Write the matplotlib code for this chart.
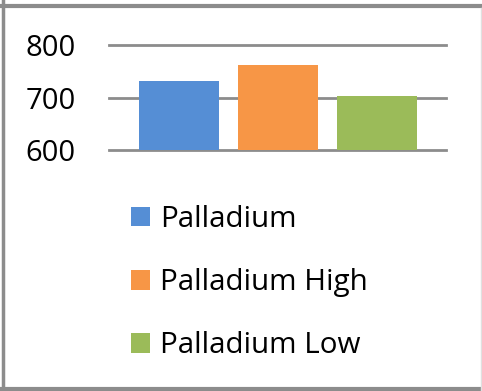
import matplotlib.pyplot as plt
from matplotlib.lines import Line2D

# data
series = ["Palladium", "Palladium High", "Palladium Low"]
values = [731, 762, 704]
colors = ["#558ED5", "#F79646", "#9BBB59"]
yticks = [600, 700, 800]

W, H = 482, 391
fig = plt.figure(figsize=(W / 100, H / 100), dpi=100)
plt.rcParams['font.family'] = ['Open Sans', 'DejaVu Sans']

# axes placed in pixel terms
x0, x1 = 109, 446
y_top, y_bot = 45.3, 150
ax = fig.add_axes([x0 / W, 1 - y_bot / H, (x1 - x0) / W, (y_bot - y_top) / H])

pos = list(range(len(series)))
bars = ax.bar(pos, [v - yticks[0] for v in values], bottom=yticks[0],
              width=0.81, color=colors, zorder=3)

ax.set_ylim(yticks[0], yticks[-1])
ax.set_xlim(-0.707, len(series) - 1 + 0.697)
ax.set_yticks(yticks)
ax.set_xticks([])
ax.yaxis.grid(True, color="#8C8C8C", linewidth=2.0, zorder=1)
for gl in ax.get_ygridlines():
    gl.set_clip_on(False)
ax.tick_params(axis='y', length=0, pad=24, labelsize=21)
for s in ax.spines.values():
    s.set_visible(False)
ax.set_facecolor("none")

leg = fig.legend(bars, series, loc="upper left",
                 bbox_to_anchor=(131 / W, 1 - 205 / H),
                 fontsize=21.3, frameon=False,
                 handlelength=0.65, handleheight=0.65, handletextpad=0.33,
                 labelspacing=1.15, borderaxespad=0, borderpad=0)

# outer frame of the chart
frame = "#8C8C8C"
fig.add_artist(Line2D([0, 1], [1 - 6 / H] * 2, color=frame, lw=3.0,
                      transform=fig.transFigure))
fig.add_artist(Line2D([2.5 / W] * 2, [0, 1], color=frame, lw=2.5,
                      transform=fig.transFigure))
fig.add_artist(Line2D([0, 1], [1 - 389 / H] * 2, color=frame, lw=3.0,
                      transform=fig.transFigure))
fig.add_artist(Line2D([480.5 / W] * 2, [0, 1 - 8 / H], color="#E0E0E0", lw=1.0,
                      transform=fig.transFigure))

fig.savefig("out.png", dpi=100)
